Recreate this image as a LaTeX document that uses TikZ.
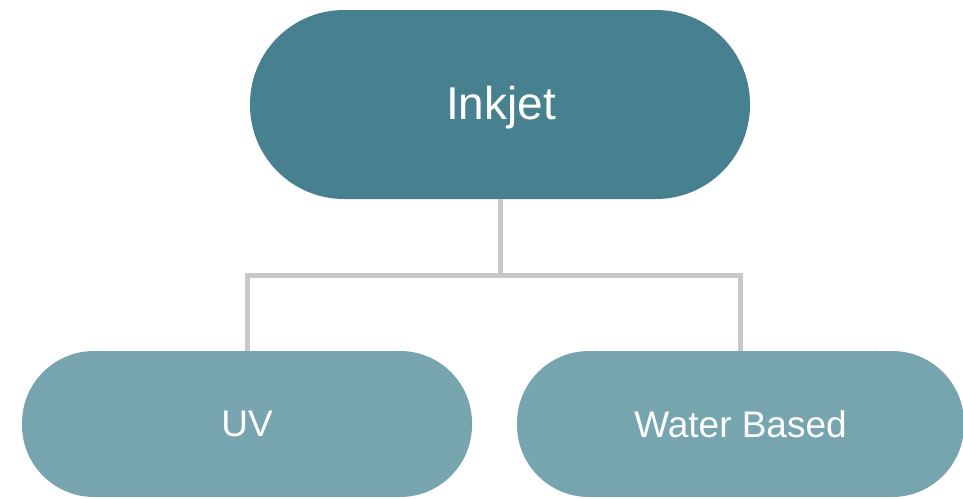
\documentclass[tikz,border=0pt]{standalone}
\usepackage{fontspec}
\setmainfont{Liberation Sans}
\definecolor{topfill}{HTML}{47818F}
\definecolor{subfill}{HTML}{76A5AF}
\definecolor{linkgray}{HTML}{C8C8C8}
\tikzset{
  pill/.style={draw=none, inner sep=0pt, text=white},
  rootpill/.style={pill, fill=topfill, minimum width=500pt, minimum height=189pt,
    rounded corners=94pt, font=\fontsize{46}{50}\selectfont},
  leafpill/.style={pill, fill=subfill, minimum height=146pt,
    rounded corners=72pt, font=\fontsize{37}{40}\selectfont},
  link/.style={draw=linkgray, line width=5pt}
}
\begin{document}
\begin{tikzpicture}[x=1pt,y=-1pt]
  \useasboundingbox (0,0) rectangle (963,498);
  \node[rootpill] (inkjet) at (500,104.5) {};
  \node[pill, font=\fontsize{46}{50}\selectfont] (inkjetlabel) at (501,108) {Inkjet};
  \node[leafpill, minimum width=450pt] (uv) at (247,424) {UV};
  \node[leafpill, minimum width=447pt] (water) at (740.5,424) {Water Based};
  \coordinate (hub) at ([yshift=-76pt]inkjet.south);
  \draw[link] (inkjet.south) -- (hub);
  \draw[link] (hub) -| (uv.north);
  \draw[link] (hub) -| (water.north);
\end{tikzpicture}
\end{document}
